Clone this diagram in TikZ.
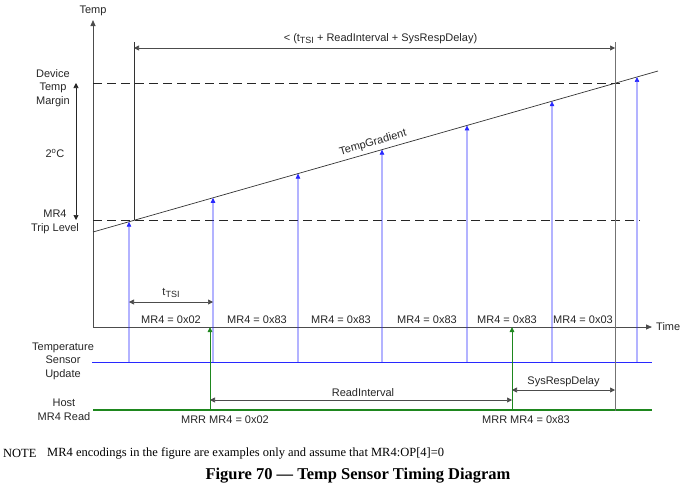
\documentclass[tikz,border=0pt]{standalone}
\usepackage{fontspec}
\setmainfont{Liberation Serif}
\setsansfont{Liberation Sans}
\usepackage{xcolor}
\usetikzlibrary{arrows.meta,positioning,calc}
\definecolor{updblue}{RGB}{40,40,255}
\definecolor{readgreen}{RGB}{30,135,30}
\newcommand{\tsisub}{\raisebox{-2.5pt}{\fontsize{9}{10}\selectfont TSI}}
\tikzset{
    % label text (plain text)
    tlabel/.style = {font=\sffamily\fontsize{11}{13.5}\selectfont, text=black!85, inner sep=1pt, align=center},
    % axis style (arrows)
    taxis/.style = {draw=black!70, line width=0.8pt, -{Triangle[width=5pt,length=6pt]}},
    % dashed level lines
    tlevel/.style = {draw=black!85, line width=0.7pt, dash pattern=on 9pt off 5pt},
    % temperature gradient line
    tgrad/.style = {draw=black!80, line width=0.7pt},
    % sensor update arrows (blue)
    tupd/.style = {draw=updblue, line width=0.6pt, -{Triangle[width=4.5pt,length=5pt]}},
    % host read arrows (green)
    tread/.style = {draw=readgreen, line width=1pt, -{Triangle[width=4.5pt,length=5pt]}},
    % dimension arrows (both ends)
    tdim/.style = {draw=black!70, line width=0.7pt, {Triangle[width=5pt,length=5pt]}-{Triangle[width=5pt,length=5pt]}},
    % marker lines (vertical)
    tmark/.style = {draw=black!55, line width=0.9pt}
}
\begin{document}
\begin{tikzpicture}[x=1pt,y=-1pt]
\useasboundingbox (0,0) rectangle (693,490);

% axes
\coordinate (O) at (93,327);
\coordinate (Ytop) at (93,20);
\coordinate (Xend) at (652,327);
\draw[taxis] (O) -- (Ytop);
\draw[taxis] (O) -- (Xend);
\node[tlabel, above=3pt of Ytop] (Ltemp) {Temp};
\node[tlabel, right=3pt of Xend] (Ltime) {Time};

% levels
\coordinate (Mleft) at (93,83);
\coordinate (Mright) at (623,83);
\coordinate (Tleft) at (93,220);
\coordinate (Tright) at (640,220);
\draw[tlevel] (Mleft) -- (Mright);
\draw[tlevel] (Tleft) -- (Tright);

% gradient
\coordinate (G0) at (93,232);
\coordinate (G1) at (658,71);
\draw[tgrad] (G0) -- node[tlabel, pos=0.5, above=2.5pt, sloped] (Lgrad) {TempGradient} (G1);

% sensor update line and arrows
\coordinate (Uleft) at (92,362);
\coordinate (Uright) at (652,362);
\draw[draw=updblue, line width=0.8pt] (Uleft) -- (Uright);
\foreach \i/\x in {1/129,2/213,3/298,4/382,5/467,6/552,7/637}{
  \coordinate (B\i) at (\x,362);
  \coordinate (U\i) at ($(G0)!{(\x-93)/565}!(G1)$);
  \draw[tupd] (B\i) -- (U\i);
}

% host read line and arrows
\coordinate (Hleft) at (93,410);
\coordinate (Hright) at (652,410);
\draw[draw=readgreen, line width=1.2pt] (Hleft) -- (Hright);
\foreach \i/\x in {1/210,2/512}{
  \coordinate (H\i) at (\x,410);
  \coordinate (A\i) at (\x,327);
  \draw[tread] (H\i) -- (A\i);
}

% marker lines
\coordinate (L0) at (134,42);
\coordinate (L1) at (134,220);
\coordinate (R0) at (615,42);
\coordinate (R1) at (615,411);
\draw[draw=black!80, line width=0.8pt] (L0) -- (L1);
\draw[tmark] (R0) -- (R1);

% dimensions
\coordinate (D0) at (134,48);
\coordinate (D1) at (615,48);
\draw[tdim] (D0) -- node[tlabel, above=3pt, xshift=6pt] (Ltotal) {< (t\tsisub\ + ReadInterval + SysRespDelay)} (D1);
\coordinate (S0) at (129,302);
\coordinate (S1) at (213,302);
\draw[tdim] (S0) -- node[tlabel, above=3pt] (Ltsi) {t\tsisub} (S1);
\coordinate (RI0) at (210,400);
\coordinate (RI1) at (512,400);
\draw[tdim] (RI0) -- node[tlabel, above=2pt, xshift=2pt] (Lread) {ReadInterval} (RI1);
\coordinate (SR0) at (512,390);
\coordinate (SR1) at (615,390);
\draw[tdim] (SR0) -- node[tlabel, above=2pt] (Lsys) {SysRespDelay} (SR1);
\coordinate (V0) at (76,83);
\coordinate (V1) at (76,220);
\draw[tdim, draw=black!85] (V0) -- (V1);

% MR4 values
\foreach \i/\x/\prop in {a/171/0x02,b/257/0x83,c/341/0x83,d/427/0x83,e/507/0x83,f/583/0x03}
  \node[tlabel] (M\i) at (\x,320) {MR4 = \prop};
\foreach \i/\x/\prop in {a/225/0x02,b/526/0x83}
  \node[tlabel] (Q\i) at (\x,420) {MRR MR4 = \prop};

% left labels
\node[tlabel] (Lmargin) at (53,88) {Device\\Temp\\Margin};
\node[tlabel] (Ldeg) at (55,153) {2\textsuperscript{o}C};
\node[tlabel] (Ltrip) at (55,222) {MR4\\Trip Level};
\node[tlabel] (Lupd) at (63,361) {Temperature\\Sensor\\Update};
\node[tlabel] (Lhost) at (64,410) {Host\\MR4 Read};

% note and caption
\node[anchor=west, font=\fontsize{12.5}{14}\selectfont, inner sep=0] (Nhead) at (3,453) {NOTE};
\node[anchor=west, font=\fontsize{12.5}{14}\selectfont, inner sep=0] (Ntext) at (47,453) {MR4 encodings in the figure are examples only and assume that MR4:OP[4]=0};
\node[font=\bfseries\fontsize{16.5}{19}\selectfont, inner sep=0] (Cap) at (358,476) {Figure 70 — Temp Sensor Timing Diagram};
\end{tikzpicture}
\end{document}
